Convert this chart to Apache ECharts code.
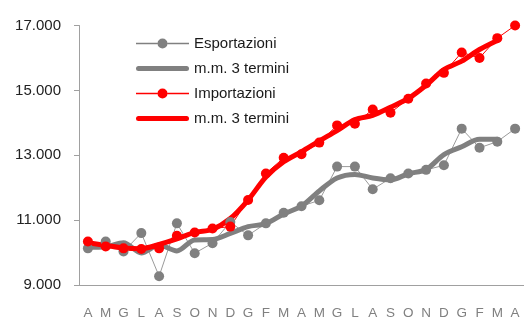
<!DOCTYPE html>
<html>
<head>
<meta charset="utf-8">
<script src="https://cdn.jsdelivr.net/npm/echarts@6/dist/echarts.min.js"></script>
<style>
html,body{margin:0;padding:0;background:#fff;}
#chart{width:524px;height:320px;}
</style>
</head>
<body>
<div id="chart"></div>
<script>
var categories = ['A','M','G','L','A','S','O','N','D','G','F','M','A','M','G','L','A','S','O','N','D','G','F','M','A'];
var exportsValues = [10130,10340,10030,10600,9270,10900,9980,10290,10940,10530,10900,11230,11430,11610,12650,12650,11950,12290,12440,12550,12690,13820,13230,13420,13820];
var exportsMA = [10160,10180,10300,9990,10230,10050,10390,10400,10590,10800,10890,11190,11430,11900,12300,12410,12300,12240,12430,12560,13020,13260,13490,13490,null];
var importsValues = [10340,10190,10130,10110,10130,10520,10620,10740,10800,11620,12440,12920,13030,13390,13920,13970,14410,14310,14740,15210,15540,16170,16000,16610,17000];
var importsMA = [10300,10220,10140,10120,10250,10420,10620,10720,11050,11620,12330,12800,13110,13440,13760,14100,14230,14480,14750,15160,15640,15900,16260,16540,null];
var yTicks = [9000,11000,13000,15000,17000];

var FONT = '"Liberation Sans Narrow","Liberation Sans",Arial,sans-serif';
var THICK = 'path://M2.5,0 L50.5,0 A2.5,2.5 0 0 1 50.5,5 L2.5,5 A2.5,2.5 0 0 1 2.5,0 Z';
var THIN_DOT = 'path://M0,6.25 L21.5,6.25 L21.5,7.75 L0,7.75 Z M31.5,6.25 L53,6.25 L53,7.75 L31.5,7.75 Z M31.5,7 A5,5 0 1 1 21.5,7 A5,5 0 1 1 31.5,7 Z';
var chart = echarts.init(document.getElementById('chart'), null, {renderer:'canvas'});
chart.setOption({
  animation:false,
  grid:{left:79,right:-3,top:25.5,bottom:34,containLabel:false},
  legend:{
    orient:'vertical',left:136,top:36,padding:0,
    itemWidth:53,itemHeight:14,itemGap:10,
    textStyle:{fontFamily:FONT,fontSize:15,color:'#1a1a1a'},
    data:[
      {name:'Esportazioni',icon:THIN_DOT},
      {name:'m.m. 3 termini ',icon:THICK},
      {name:'Importazioni',icon:THIN_DOT},
      {name:'m.m. 3 termini',icon:THICK}
    ]
  },
  xAxis:{
    type:'category',data:categories,boundaryGap:true,
    axisLine:{lineStyle:{color:'#a0a0a0',width:1}},
    axisTick:{show:false},
    axisLabel:{interval:0,margin:21,fontFamily:FONT,fontSize:13.5,color:'#808080'}
  },
  yAxis:{
    type:'value',min:yTicks[0],max:yTicks[yTicks.length-1],interval:2000,
    axisLine:{show:true,lineStyle:{color:'#a0a0a0',width:1}},
    axisTick:{show:true,length:5,lineStyle:{color:'#a0a0a0'}},
    splitLine:{show:false},
    axisLabel:{margin:18,fontFamily:FONT,fontSize:15,color:'#222',
      formatter:function(v){return String(v).replace(/\B(?=(\d{3})+(?!\d))/g,'.');}}
  },
  series:[
    {name:'Esportazioni',type:'line',data:exportsValues,symbol:'circle',symbolSize:10,
      lineStyle:{color:'#9a9a9a',width:1},itemStyle:{color:'#808080'}},
    {name:'m.m. 3 termini ',type:'line',data:exportsMA,symbol:'none',smooth:0.3,
      lineStyle:{color:'#808080',width:5,cap:'round'},itemStyle:{color:'#808080'}},
    {name:'Importazioni',type:'line',data:importsValues,symbol:'circle',symbolSize:10,
      lineStyle:{color:'#ff0000',width:1},itemStyle:{color:'#ff0000'}},
    {name:'m.m. 3 termini',type:'line',data:importsMA,symbol:'none',smooth:0.3,
      lineStyle:{color:'#ff0000',width:5,cap:'round'},itemStyle:{color:'#ff0000'}}
  ]
});
</script>
</body>
</html>
